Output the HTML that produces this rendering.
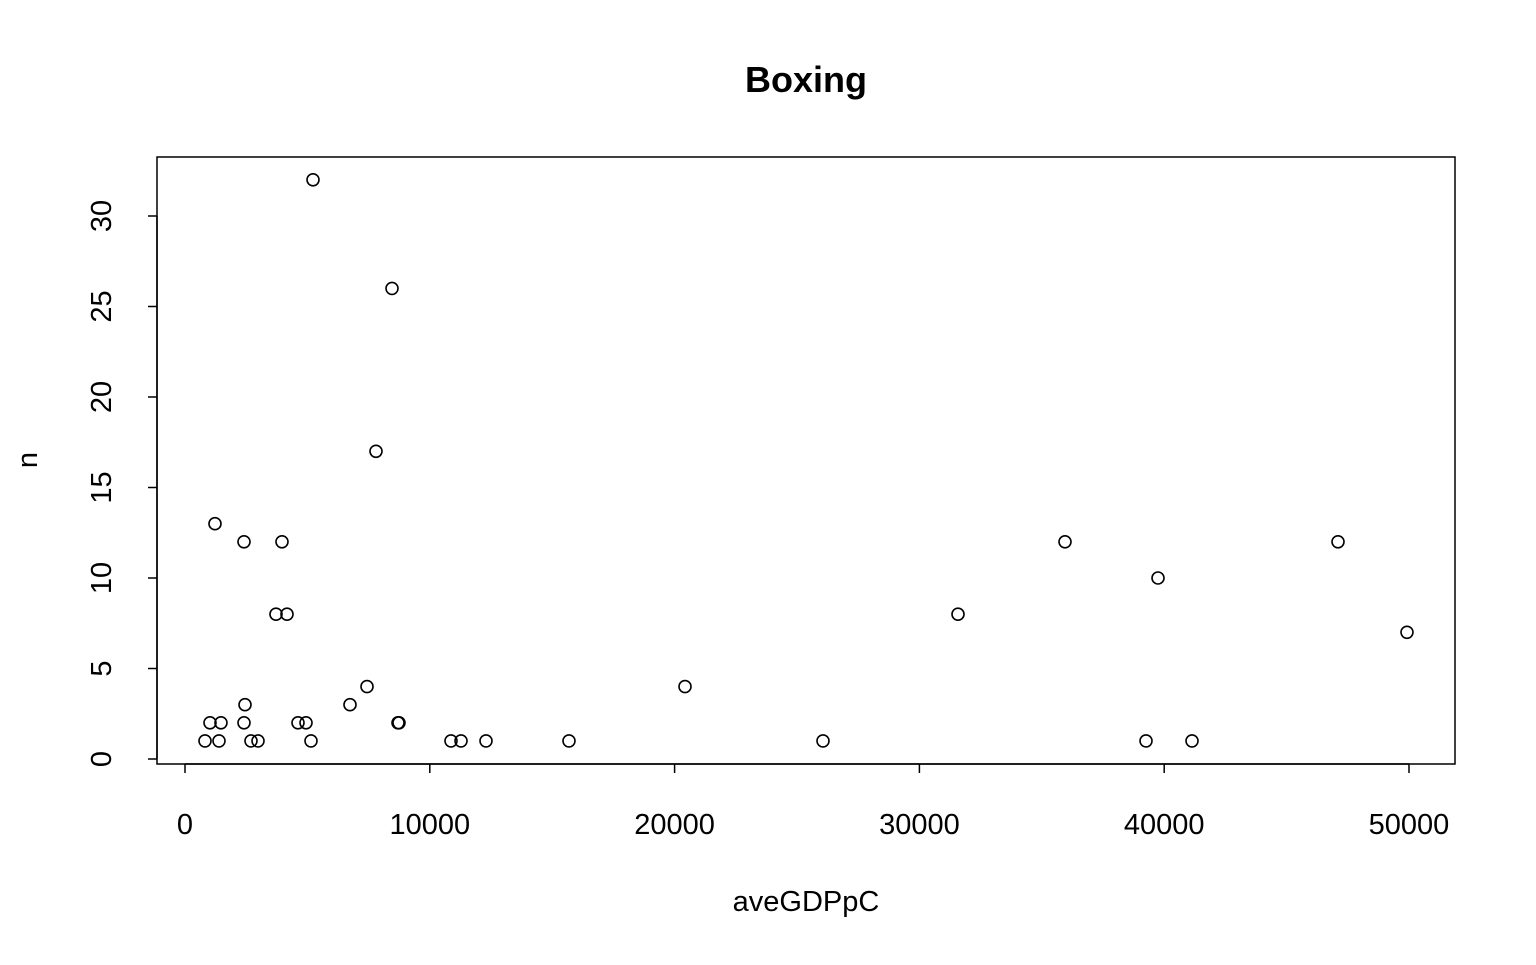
<!DOCTYPE html>
<html><head><meta charset="utf-8"><style>
html,body{margin:0;padding:0;background:#fff;}
svg text{font-family:"Liberation Sans",Arial,sans-serif;fill:#000;}
</style></head><body>
<svg id="chart" width="1536" height="960">
<text x="806" y="92" font-size="36" font-weight="bold" text-anchor="middle">Boxing</text>
<rect x="157" y="157" width="1298" height="607" fill="none" stroke="#000" stroke-width="1.5"/>
<g id="xaxis"></g>
<g id="yaxis"></g>
<text x="806" y="911" font-size="29" text-anchor="middle">aveGDPpC</text>
<text transform="translate(37,460) rotate(-90)" font-size="29" text-anchor="middle">n</text>
<g id="points"></g>
</svg>
<script>
const gdp=[817,1021,1225,1389,1470,2410,2410,2451,2696,2982,3717,3962,4167,4616,4943,5147,5229,6740,7435,7802,8456,8701,8742,10866,11275,12296,15686,20425,26062,31577,35948,39257,39747,41136,47100,49918];
const counts=[1,2,13,1,2,12,2,3,1,1,8,12,8,2,2,1,32,3,4,17,26,2,2,1,1,1,1,4,1,8,12,1,10,1,12,7];
const xTicks=[0,10000,20000,30000,40000,50000];
const yTicks=[0,5,10,15,20,25,30];
const NS="http://www.w3.org/2000/svg";
function xs(v){return 185+v*(1409-185)/50000;}
function ys(v){return 759-v*(759-216)/30;}
function mk(t,a){const e=document.createElementNS(NS,t);for(const k in a)e.setAttribute(k,a[k]);return e;}
const xa=document.getElementById('xaxis');
xa.appendChild(mk('line',{x1:xs(0),x2:xs(50000),y1:764,y2:764,stroke:'#000','stroke-width':1.5}));
xTicks.forEach(t=>{
  const l=mk('line',{x1:xs(t),x2:xs(t),y1:764,y2:773,stroke:'#000','stroke-width':1.5});
  
  
  xa.appendChild(l);
  const tx=mk('text',{x:xs(t),y:834,'font-size':29,'text-anchor':'middle'});
  tx.textContent=t;
  
  
  xa.appendChild(tx);
});
const ya=document.getElementById('yaxis');
ya.appendChild(mk('line',{x1:157,x2:157,y1:ys(0),y2:ys(30),stroke:'#000','stroke-width':1.5}));
yTicks.forEach(t=>{
  const l=mk('line',{x1:148,x2:157,y1:ys(t),y2:ys(t),stroke:'#000','stroke-width':1.5});
  
  
  ya.appendChild(l);
  const tx=mk('text',{transform:`translate(111,${ys(t)}) rotate(-90)`,'font-size':29,'text-anchor':'middle'});
  tx.textContent=t;
  
  
  ya.appendChild(tx);
});
const pg=document.getElementById('points');
gdp.forEach((g,i)=>{
  const c=mk('circle',{cx:xs(g),cy:ys(counts[i]),r:6,fill:'none',stroke:'#000','stroke-width':1.6});
  
  
  pg.appendChild(c);
});
</script>
</body></html>
